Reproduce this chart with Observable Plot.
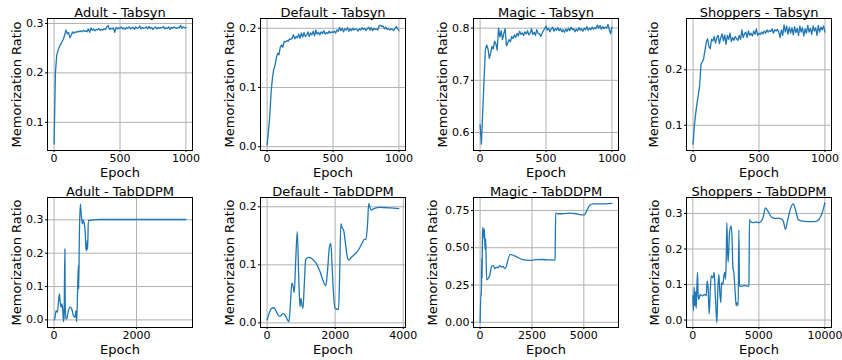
<!DOCTYPE html>
<html>
<head>
<meta charset="utf-8">
<script src="https://cdn.jsdelivr.net/npm/d3@7"></script>
<script src="https://cdn.jsdelivr.net/npm/@observablehq/plot@0.6"></script>
<style>
  html, body { margin: 0; padding: 0; background: white; }
  #chart { position: relative; width: 842px; height: 360px; overflow: hidden; background: white; }
  #chart svg { position: absolute; }
</style>
</head>
<body>
<div id="chart"></div>
<script>
// ---------- Titles ----------
const titles = ["Adult - Tabsyn", "Default - Tabsyn", "Magic - Tabsyn", "Shoppers - Tabsyn",
                "Adult - TabDDPM", "Default - TabDDPM", "Magic - TabDDPM", "Shoppers - TabDDPM"];
const xLabel = "Epoch";
const yLabel = "Memorization Ratio";

// ---------- Tabsyn series (epoch 0..1000, every 10) ----------
const tabsynEpochs = d3.range(0, 1001, 10);
const adultTabsyn = [0.056,0.200,0.236,0.245,0.253,0.258,0.263,0.268,0.276,0.287,
 0.279,0.282,0.271,0.276,0.283,0.280,0.283,0.282,0.284,0.283,
 0.285,0.283,0.286,0.284,0.285,0.283,0.289,0.282,0.291,0.286,
 0.289,0.285,0.288,0.287,0.290,0.286,0.288,0.287,0.289,0.288,
 0.293,0.296,0.288,0.290,0.289,0.291,0.282,0.292,0.289,0.291,
 0.290,0.293,0.289,0.291,0.288,0.292,0.290,0.293,0.289,0.291,
 0.292,0.288,0.293,0.290,0.291,0.295,0.289,0.292,0.290,0.291,
 0.293,0.289,0.294,0.290,0.292,0.288,0.291,0.293,0.289,0.292,
 0.290,0.292,0.291,0.294,0.289,0.291,0.290,0.293,0.288,0.292,
 0.290,0.293,0.291,0.290,0.292,0.291,0.296,0.290,0.293,0.291,0.292];
const defaultTabsyn = [0.003,0.025,0.050,0.090,0.115,0.130,0.137,0.150,0.158,0.155,
 0.168,0.172,0.168,0.178,0.177,0.179,0.178,0.182,0.181,0.183,
 0.189,0.182,0.186,0.184,0.190,0.183,0.192,0.185,0.193,0.186,
 0.188,0.194,0.186,0.192,0.189,0.195,0.187,0.197,0.190,0.193,
 0.189,0.194,0.191,0.196,0.190,0.193,0.191,0.195,0.192,0.194,
 0.193,0.195,0.192,0.197,0.195,0.201,0.196,0.200,0.194,0.199,
 0.197,0.201,0.195,0.199,0.196,0.200,0.197,0.199,0.198,0.195,
 0.199,0.197,0.201,0.198,0.200,0.196,0.199,0.202,0.197,0.201,
 0.196,0.200,0.198,0.199,0.197,0.204,0.205,0.203,0.204,0.199,
 0.202,0.198,0.200,0.197,0.199,0.198,0.196,0.200,0.203,0.199,0.196];
const magicTabsyn = [0.615,0.578,0.640,0.700,0.758,0.768,0.760,0.742,0.752,0.765,
 0.760,0.775,0.770,0.758,0.800,0.783,0.795,0.778,0.790,0.799,
 0.766,0.772,0.778,0.774,0.784,0.780,0.787,0.782,0.790,0.785,
 0.794,0.788,0.791,0.786,0.793,0.789,0.795,0.787,0.790,0.799,
 0.788,0.792,0.786,0.797,0.790,0.789,0.784,0.790,0.795,0.799,
 0.804,0.796,0.800,0.793,0.798,0.802,0.794,0.799,0.796,0.801,
 0.795,0.799,0.793,0.797,0.792,0.798,0.794,0.800,0.795,0.802,
 0.797,0.799,0.793,0.798,0.795,0.801,0.796,0.799,0.794,0.800,
 0.797,0.803,0.796,0.800,0.797,0.802,0.798,0.801,0.799,0.806,
 0.800,0.805,0.798,0.803,0.799,0.802,0.800,0.807,0.797,0.789,0.802];
const shoppersTabsyn = [0.066,0.100,0.122,0.140,0.155,0.172,0.210,0.214,0.220,0.235,
 0.250,0.256,0.242,0.238,0.255,0.252,0.260,0.248,0.258,0.262,
 0.247,0.258,0.265,0.252,0.263,0.246,0.262,0.255,0.266,0.251,
 0.258,0.253,0.260,0.256,0.253,0.262,0.255,0.272,0.258,0.265,
 0.268,0.258,0.270,0.262,0.266,0.261,0.270,0.264,0.274,0.262,
 0.266,0.264,0.268,0.265,0.270,0.266,0.272,0.268,0.271,0.269,
 0.274,0.266,0.272,0.270,0.273,0.268,0.258,0.272,0.262,0.281,
 0.268,0.279,0.264,0.277,0.266,0.276,0.263,0.278,0.267,0.275,
 0.262,0.279,0.268,0.276,0.261,0.274,0.266,0.280,0.268,0.275,
 0.264,0.279,0.270,0.276,0.262,0.280,0.268,0.277,0.272,0.279,0.268];

// ---------- TabDDPM series ----------
const adultDdpmEpochs = [0,16,48,81,105,129,145,169,185,210,226,242,262,270,285,306,347,387,427,468,
 508,532,548,573,589,597,613,637,661,686,710,734,758,774,790,806,815,831,871,952,1113,1500,2000,2500,3000,3200];
const adultDdpm = [0.0,0.003,0.028,0.023,0.053,0.078,0.058,0.038,0.048,0.033,-0.005,0.008,0.213,0.05,0.003,0.003,0.028,0.038,0.033,0.013,
 0.008,0.028,-0.006,0.098,0.163,0.093,0.248,0.348,0.313,0.288,0.298,0.288,0.258,0.213,0.208,0.238,0.213,0.298,0.298,0.300,0.301,0.301,0.301,0.301,0.301,0.301];

const defaultDdpmEpochs = [0,59,128,197,276,355,414,473,532,591,640,680,729,768,798,837,887,926,966,995,
 1025,1054,1094,1133,1212,1310,1438,1557,1655,1724,1773,1832,1872,1911,1950,2000,2099,2128,2167,2207,
 2246,2296,2345,2394,2493,2591,2690,2788,2857,2906,2956,2985,3015,3064,3133,3330,3626,3872];
const defaultDdpm = [0.005,0.016,0.025,0.026,0.019,0.011,0.013,0.016,0.013,0.006,0.002,0.028,0.069,0.062,0.052,0.103,0.157,0.085,0.028,0.042,
 0.030,0.025,0.068,0.109,0.113,0.111,0.103,0.088,0.071,0.064,0.088,0.131,0.137,0.097,0.051,0.025,0.023,0.073,0.171,0.163,
 0.160,0.140,0.117,0.108,0.114,0.119,0.126,0.137,0.144,0.144,0.175,0.206,0.200,0.194,0.197,0.199,0.198,0.197];

const magicDdpmEpochs = [0,47,63,79,95,111,127,158,190,206,237,269,285,316,396,475,554,633,712,791,
 870,949,1028,1108,1187,1266,1345,1456,1582,1740,2057,2373,2690,3000,3300,3581,3613,3645,3742,3984,
 4306,4629,4871,5032,5145,5274,5435,5839,6355];
const magicDdpm = [0.0,0.205,0.18,0.43,0.30,0.55,0.636,0.615,0.56,0.625,0.49,0.56,0.47,0.285,0.295,0.32,0.375,0.38,0.36,0.37,
 0.365,0.38,0.37,0.375,0.36,0.375,0.42,0.455,0.45,0.44,0.42,0.415,0.42,0.421,0.418,0.417,0.421,0.732,0.728,0.728,
 0.732,0.728,0.721,0.721,0.75,0.783,0.794,0.794,0.798];

const shoppersDdpmEpochs = [0,50,101,152,202,253,303,354,404,455,556,707,884,1010,1086,1162,1237,1313,1389,1515,
 1616,1692,1742,1818,1894,1970,2045,2121,2172,2273,2348,2424,2475,2525,2576,2626,2677,2778,2904,2980,
 3030,3106,3207,3283,3359,3434,3485,3535,3662,3914,4167,4242,4293,4343,4545,4798,5013,5316,5494,5696,
 5949,6253,6582,6835,7013,7165,7418,7595,7772,7975,8228,8734,9240,9544,9797,10000];
const shoppersDdpm = [0.068,0.026,0.092,0.040,0.080,0.033,0.087,0.134,0.068,0.058,0.072,0.068,0.072,0.068,0.110,0.087,0.017,0.077,0.124,0.119,
 0.134,0.077,0.040,-0.007,0.087,0.129,0.077,0.049,0.105,0.100,0.124,0.134,0.115,0.163,0.274,0.200,0.163,0.247,0.265,0.219,
 0.149,0.134,0.077,0.040,0.049,0.040,0.254,0.097,0.095,0.097,0.095,0.097,0.283,0.278,0.274,0.276,0.274,0.288,0.316,0.306,
 0.290,0.286,0.286,0.280,0.255,0.279,0.316,0.327,0.311,0.283,0.279,0.277,0.277,0.283,0.302,0.330];

// ---------- Tick values ----------
const xTicks = [[0,500,1000],[0,500,1000],[0,500,1000],[0,500,1000],
                [0,2000],[0,2000,4000],[0,2500,5000],[0,5000,10000]];
const yTicks = [[0.1,0.2,0.3],[0.0,0.1,0.2],[0.6,0.7,0.8],[0.1,0.2],
                [0.0,0.1,0.2,0.3],[0.0,0.1,0.2],[0.0,0.25,0.5,0.75],[0.0,0.1,0.2,0.3]];
const yDecimals = [1,1,1,1,1,1,2,1];

// ---------- Build panels ----------
const series = [
  [tabsynEpochs, adultTabsyn], [tabsynEpochs, defaultTabsyn], [tabsynEpochs, magicTabsyn], [tabsynEpochs, shoppersTabsyn],
  [adultDdpmEpochs, adultDdpm], [defaultDdpmEpochs, defaultDdpm], [magicDdpmEpochs, magicDdpm], [shoppersDdpmEpochs, shoppersDdpm]
];
const xDomains = [[-50,1050],[-50,1050],[-50,1050],[-50,1050],
                  [-160,3360],[-194,4066],[-318,6673],[-480,10500]];
const yDomains = [[0.043,0.310],[-0.0065,0.2165],[0.5655,0.8185],[0.0545,0.2925],
                  [-0.0228,0.367],[-0.008,0.216],[-0.035,0.837],[-0.021,0.345]];
const yLabelOffsets = [26.5,26.7,26.7,28.5,26.5,26.7,36.5,28];

const colLefts = [47, 260, 473, 686];
const frameW = 145;
const rows = [{top: 17.5, h: 132}, {top: 197, h: 130}];
const mL = 47, mR = 14, mT = 18, mB = 34;
const container = document.getElementById("chart");

series.forEach(([xs, ys], i) => {
  const row = rows[Math.floor(i / 4)];
  const col = colLefts[i % 4];
  const data = xs.map((x, k) => ({x, y: ys[k]}));
  const dec = yDecimals[i];
  const svg = Plot.plot({
    width: mL + frameW + mR,
    height: mT + row.h + mB,
    marginLeft: mL, marginRight: mR, marginTop: mT, marginBottom: mB,
    style: {background: "transparent", overflow: "visible", fontFamily: "'DejaVu Sans', sans-serif", fontSize: "11px", color: "black"},
    x: {domain: xDomains[i]},
    y: {domain: yDomains[i]},
    marks: [
      Plot.gridX(xTicks[i], {stroke: "#b0b0b0", strokeOpacity: 1, strokeWidth: 1}),
      Plot.gridY(yTicks[i], {stroke: "#b0b0b0", strokeOpacity: 1, strokeWidth: 1}),
      Plot.line(data, {x: "x", y: "y", stroke: "#1f77b4", strokeWidth: 1.3,
                       curve: i < 4 ? "linear" : "monotone-x"}),
      Plot.frame({stroke: "black", strokeWidth: 1}),
      Plot.axisX(xTicks[i], {tickSize: 2, tickPadding: 2, fontSize: 11, label: null, tickFormat: d3.format("d")}),
      Plot.axisY(yTicks[i], {tickSize: 2, tickPadding: 2, fontSize: 11, label: null, tickFormat: d => d.toFixed(dec)}),
      Plot.text([titles[i]], {frameAnchor: "top", dy: -2, lineAnchor: "bottom", textAnchor: "middle", fontSize: 13, fill: "black"}),
      Plot.text([xLabel], {frameAnchor: "bottom", dy: 26, lineAnchor: "bottom", textAnchor: "middle", fontSize: 13, fill: "black"}),
      Plot.text([yLabel], {frameAnchor: "left", dx: -yLabelOffsets[i], rotate: -90, lineAnchor: "bottom", textAnchor: "middle", fontSize: 13, fill: "black"})
    ]
  });
  svg.style.left = (col - mL) + "px";
  svg.style.top = (row.top - mT) + "px";
  container.appendChild(svg);
});
</script>
</body>
</html>
